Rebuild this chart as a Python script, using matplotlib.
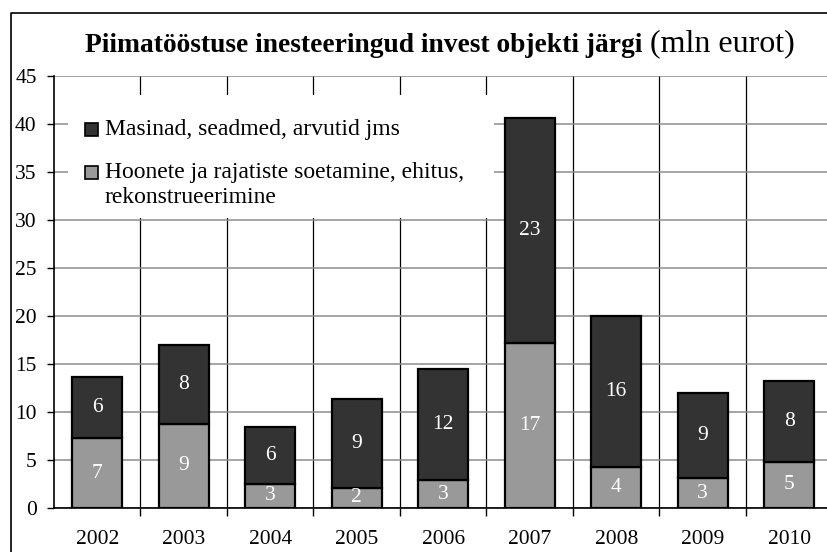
import matplotlib
matplotlib.use("Agg")
import matplotlib.pyplot as plt
from matplotlib.lines import Line2D
from matplotlib.patches import Rectangle
import numpy as np

# Data (mln eurot)
years = ["2002", "2003", "2004", "2005", "2006", "2007", "2008", "2009", "2010"]
buildings = [7.26, 8.75, 2.53, 2.12, 2.88, 17.15, 4.30, 3.09, 4.83]
machines = [6.42, 8.26, 5.91, 9.23, 11.57, 23.45, 15.70, 8.85, 8.45]
y_ticks = [0, 5, 10, 15, 20, 25, 30, 35, 40, 45]

label_machines = "Masinad, seadmed, arvutid jms"
label_buildings = "Hoonete ja rajatiste soetamine, ehitus,\nrekonstrueerimine"
title_bold = "Piimatööstuse inesteeringud invest objekti järgi"
title_normal = " (mln eurot)"

plt.rcParams["font.family"] = ["Liberation Serif", "DejaVu Serif"]

W, H = 828, 552


def fx(px):
    return px / W


def fy(py):
    return 1 - py / H


fig = plt.figure(figsize=(W / 100, H / 100), dpi=100)
# plot area runs past the right edge of the picture, as in the original crop
ax = fig.add_axes([fx(54), 44 / H, 778.5 / W, 432 / H])

x = np.arange(len(years))
dark = "#333333"
grey = "#999999"

ax.bar(x, buildings, width=0.58, color=grey, edgecolor="black", linewidth=1.6, zorder=3)
ax.bar(x, machines, width=0.58, bottom=buildings, color=dark, edgecolor="black",
       linewidth=1.6, zorder=3)

# value labels (rounded) in the middle of each segment
for i in range(len(years)):
    ax.text(x[i], buildings[i] / 2, f"{buildings[i]:.0f}", ha="center", va="center",
            color="white", fontsize=15.5, zorder=4)
    ax.text(x[i], buildings[i] + machines[i] / 2, f"{machines[i]:.0f}", ha="center",
            va="center", color="white", fontsize=15.5, zorder=4)

ax.set_xlim(-0.5, len(years) - 0.5)
ax.set_ylim(0, 45)
ax.set_yticks(y_ticks)
ax.set_xticks(x)
ax.set_xticklabels(years)
ax.set_xticks(np.arange(len(years)) + 0.5, minor=True)

ax.tick_params(axis="y", which="major", direction="out", length=5, width=1,
               labelsize=15.5, pad=7.5)
ax.tick_params(axis="x", which="major", length=0, labelsize=15.5, pad=16)
ax.tick_params(axis="x", which="minor", direction="out", length=6, width=1)

# horizontal grid grey, vertical separators black
ax.yaxis.grid(True, color="#8c8c8c", linewidth=1.1, zorder=1)
for xb in np.arange(len(years)) + 0.5:
    ax.axvline(xb, color="black", linewidth=0.9, zorder=1)

for side in ["top", "right"]:
    ax.spines[side].set_visible(False)
for side in ["left", "bottom"]:
    ax.spines[side].set_linewidth(1.2)
    ax.spines[side].set_zorder(5)

# legend drawn by hand: white box, squares, text
ax.add_patch(Rectangle((fx(68), fy(218)), fx(494) - fx(68), fy(95) - fy(218),
                       transform=fig.transFigure, facecolor="white", edgecolor="none",
                       zorder=2.5, clip_on=False))
for color, label, ysq, ybase in [(dark, label_machines, 130, 135),
                                 (grey, label_buildings, 172, 203)]:
    ax.add_patch(Rectangle((fx(85), fy(ysq + 6.5)), 13 / W, 13 / H,
                           transform=fig.transFigure, facecolor=color,
                           edgecolor="black", linewidth=1.2, zorder=4, clip_on=False))
    ax.text(fx(105), fy(ybase), label, transform=fig.transFigure, fontsize=17,
            ha="left", va="baseline", linespacing=1.25, zorder=4)

# title: bold part followed by normal part
t1 = fig.text(fx(85), fy(52), title_bold, fontsize=19.8, fontweight="bold",
              ha="left", va="baseline")
ax.annotate(title_normal, xy=(1, 0), xycoords=t1, fontsize=23, ha="left",
            va="bottom", annotation_clip=False)

# outer frame (only left and top edges are inside the picture)
fig.add_artist(Line2D([fx(11), fx(11), 1.01], [-0.01, fy(13), fy(13)],
                      transform=fig.transFigure, color="black", linewidth=1.2))

fig.savefig("out.png", dpi=100)
